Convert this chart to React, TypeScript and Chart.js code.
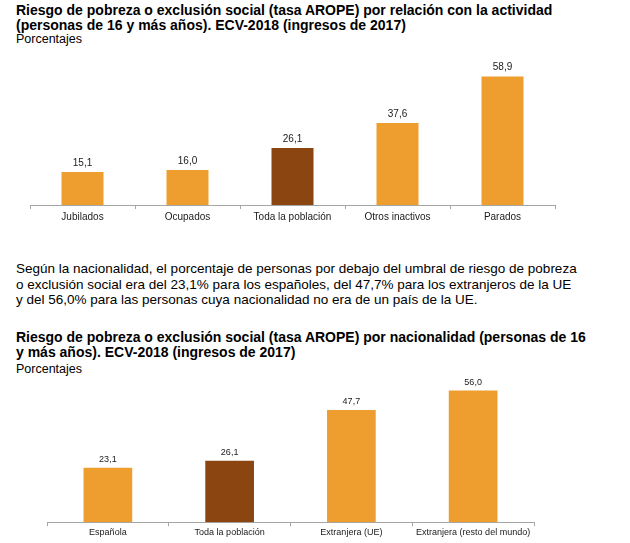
import React, { useEffect, useRef } from "react";
import { Chart, registerables } from "chart.js";

Chart.register(...registerables);

const actividadLabels = ["Jubilados", "Ocupados", "Toda la población", "Otros inactivos", "Parados"];
const actividadValues = [15.1, 16.0, 26.1, 37.6, 58.9];
const nacionalidadLabels = ["Española", "Toda la población", "Extranjera (UE)", "Extranjera (resto del mundo)"];
const nacionalidadValues = [23.1, 26.1, 47.7, 56.0];

const ORANGE = "#EE9E2E";
const BROWN = "#8B4511";
const AXIS = "#A6A6A6";
const FONT = "'Liberation Sans', Arial, sans-serif";

function fmt(v: number) {
  return v.toFixed(1).replace(".", ",");
}

function makeLabelPlugin(size: number, offset: number) {
  return {
    id: "valueLabels",
    afterDatasetsDraw(chart: any) {
      const ctx = chart.ctx;
      const meta = chart.getDatasetMeta(0);
      const data = chart.data.datasets[0].data as number[];
      ctx.save();
      ctx.font = `${size}px ${FONT}`;
      ctx.fillStyle = "#1a1a1a";
      ctx.textAlign = "center";
      ctx.textBaseline = "middle";
      meta.data.forEach((bar: any, i: number) => {
        ctx.fillText(fmt(data[i]), bar.x, bar.y - offset);
      });
      ctx.restore();
    },
  };
}

type BarProps = {
  labels: string[];
  values: number[];
  highlight: string;
  width: number;
  height: number;
  padding: { top: number; left: number; right: number; bottom: number };
  fontSize: number;
  tickPad: number;
  labelOffset: number;
};

function BarChart(props: BarProps) {
  const ref = useRef<HTMLCanvasElement | null>(null);
  useEffect(() => {
    if (!ref.current) return;
    const colors = props.labels.map((l) => (l === props.highlight ? BROWN : ORANGE));
    const chart = new Chart(ref.current, {
      type: "bar",
      data: {
        labels: props.labels,
        datasets: [
          {
            data: props.values,
            backgroundColor: colors,
            borderWidth: 0,
            categoryPercentage: 1,
            barPercentage: 0.4,
          },
        ],
      },
      options: {
        animation: false,
        responsive: false,
        maintainAspectRatio: false,
        layout: { padding: props.padding },
        plugins: { legend: { display: false }, tooltip: { enabled: false } },
        scales: {
          x: {
            grid: {
              display: true,
              drawOnChartArea: false,
              drawTicks: true,
              tickLength: 4,
              color: AXIS,
              offset: true,
            },
            border: { display: true, color: AXIS, width: 1 },
            ticks: {
              color: "#1a1a1a",
              font: { family: FONT, size: props.fontSize },
              padding: props.tickPad,
              maxRotation: 0,
              autoSkip: false,
            },
          },
          y: {
            display: false,
            min: 0,
            max: 60,
          },
        },
      },
      plugins: [makeLabelPlugin(props.fontSize, props.labelOffset)],
    });
    return () => chart.destroy();
  }, []);
  return <canvas ref={ref} width={props.width} height={props.height} style={{ width: props.width, height: props.height, display: "block" }} />;
}

export default function App() {
  const titleStyle: React.CSSProperties = {
    position: "absolute",
    left: 16,
    fontFamily: FONT,
    fontWeight: "bold",
    fontSize: 14,
    lineHeight: "15px",
    color: "#000",
    whiteSpace: "nowrap",
  };
  const subStyle: React.CSSProperties = {
    position: "absolute",
    left: 16,
    fontFamily: FONT,
    fontSize: 12.5,
    lineHeight: "14px",
    color: "#000",
    whiteSpace: "nowrap",
  };
  return (
    <div style={{ position: "absolute", left: 0, top: 0, width: 630, height: 543, overflow: "hidden", background: "#fff" }}>
      <div style={{ ...titleStyle, top: 3 }}>
        Riesgo de pobreza o exclusión social (tasa AROPE) por relación con la actividad
        <br />
        (personas de 16 y más años). ECV-2018 (ingresos de 2017)
      </div>
      <div style={{ ...subStyle, top: 32 }}>Porcentajes</div>
      <div style={{ position: "absolute", left: 0, top: 60 }}>
        <BarChart
          labels={actividadLabels}
          values={actividadValues}
          highlight="Toda la población"
          width={630}
          height={165}
          padding={{ top: 14, left: 30, right: 75, bottom: 0 }}
          fontSize={10}
          tickPad={2}
          labelOffset={9}
        />
      </div>
      <div
        style={{
          position: "absolute",
          left: 16,
          top: 261,
          fontFamily: FONT,
          fontSize: 13.5,
          lineHeight: "15.5px",
          color: "#000",
          whiteSpace: "nowrap",
        }}
      >
        Según la nacionalidad, el porcentaje de personas por debajo del umbral de riesgo de pobreza
        <br />
        o exclusión social era del 23,1% para los españoles, del 47,7% para los extranjeros de la UE
        <br />
        y del 56,0% para las personas cuya nacionalidad no era de un país de la UE.
      </div>
      <div style={{ ...titleStyle, top: 330 }}>
        Riesgo de pobreza o exclusión social (tasa AROPE) por nacionalidad (personas de 16
        <br />
        y más años). ECV-2018 (ingresos de 2017)
      </div>
      <div style={{ ...subStyle, top: 362 }}>Porcentajes</div>
      <div style={{ position: "absolute", left: 0, top: 370 }}>
        <BarChart
          labels={nacionalidadLabels}
          values={nacionalidadValues}
          highlight="Toda la población"
          width={630}
          height={169}
          padding={{ top: 11, left: 47, right: 96, bottom: 0 }}
          fontSize={9}
          tickPad={1}
          labelOffset={8}
        />
      </div>
    </div>
  );
}
